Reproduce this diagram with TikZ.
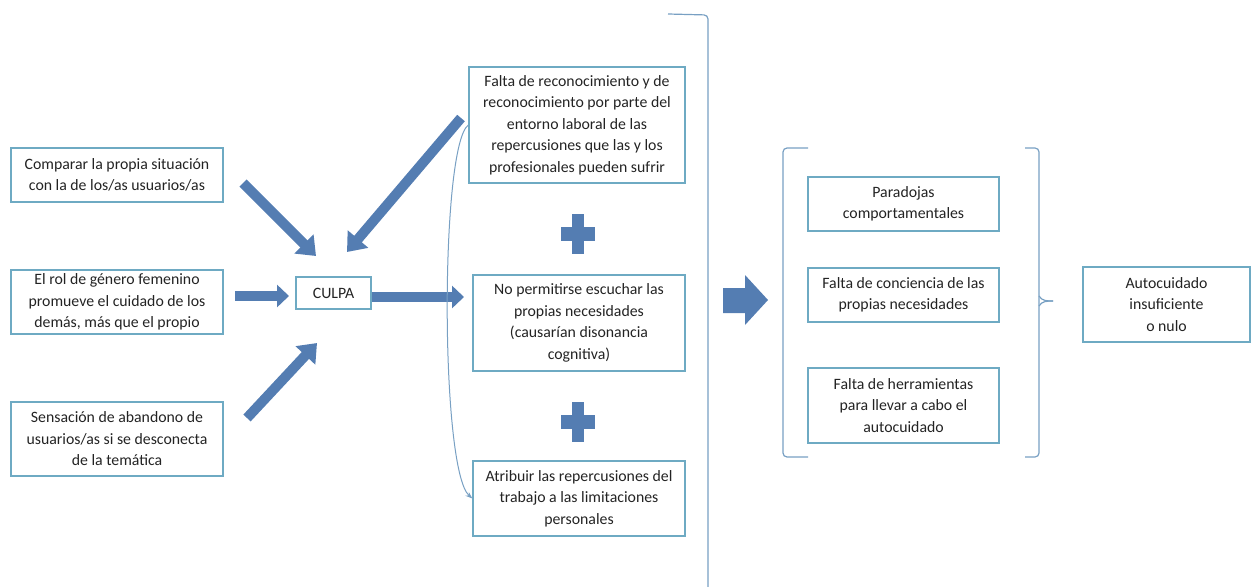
\documentclass[tikz,border=0pt]{standalone}
\usepackage{fontspec}
\setmainfont{Carlito}
\usetikzlibrary{arrows.meta}
\definecolor{boxc}{RGB}{110,170,195}
\definecolor{brkc}{RGB}{120,160,195}
\definecolor{arrowc}{RGB}{84,125,178}
\definecolor{txtc}{RGB}{35,35,35}
\tikzset{
  box/.style={draw=boxc, line width=1.2pt, align=center, inner sep=0pt, text=txtc,
    font=\fontsize{15.8}{21.5}\selectfont},
  blkd/.style={draw=arrowc, line width=10pt, -{Triangle[width=26pt,length=17pt]}},
  blkh/.style={draw=arrowc, line width=10pt, -{Triangle[width=22pt,length=12pt]}},
  brk/.style={draw=brkc, line width=1.2pt, rounded corners=4pt},
  thinarr/.style={draw=brkc, line width=1pt, -{Stealth[length=7pt,width=5pt]}},
}
\begin{document}
\begin{tikzpicture}[x=1pt,y=-1pt]
\useasboundingbox (0,0) rectangle (1252,586);
% left column
\node[box, minimum width=212pt, minimum height=54pt] (c1) at (117,175)
  {Comparar la propia situación\\con la de los/as usuarios/as};
\node[box, minimum width=212pt, minimum height=64pt] (c2) at (117,302)
  {El rol de género femenino\\promueve el cuidado de los\\demás, más que el propio};
\node[box, minimum width=212pt, minimum height=74pt] (c3) at (117,439)
  {Sensación de abandono de\\usuarios/as si se desconecta\\de la temática};
\node[box, minimum width=75pt, minimum height=32pt] (culpa) at (333.5,293) {CULPA};
% middle column
\node[box, minimum width=216pt, minimum height=116pt] (f1) at (577,125)
  {Falta de reconocimiento y de\\reconocimiento por parte del\\entorno laboral de las\\repercusiones que las y los\\profesionales pueden sufrir};
\node[box, minimum width=212pt, minimum height=96pt] (f2) at (579,323)
  {No permitirse escuchar las\\propias necesidades\\(causarían disonancia\\cognitiva)};
\node[box, minimum width=212pt, minimum height=75pt] (f3) at (579,498.5)
  {Atribuir las repercusiones del\\trabajo a las limitaciones\\personales};
% right group
\node[box, minimum width=191pt, minimum height=54pt] (p1) at (903.5,204)
  {Paradojas\\comportamentales};
\node[box, minimum width=191pt, minimum height=54pt] (p2) at (903.5,295)
  {Falta de conciencia de las\\propias necesidades};
\node[box, minimum width=191pt, minimum height=75pt] (p3) at (903.5,405.5)
  {Falta de herramientas\\para llevar a cabo el\\autocuidado};
\node[box, minimum width=167pt, minimum height=75pt] (auto) at (1166.5,304.5)
  {Autocuidado\\insuficiente\\o nulo};
% arrow end coordinates
\coordinate (a1s) at (243,183); \coordinate (a1e) at (316,256);
\coordinate (a2s) at (235,296); \coordinate (a2e) at (289,296);
\coordinate (a3s) at (247,418); \coordinate (a3e) at (317,343);
\coordinate (a4s) at (461,118); \coordinate (a4e) at (347,252);
\coordinate (a5e) at (464,297);
\draw[blkd] (a1s) -- (a1e);
\draw[blkh] (a2s) -- (a2e);
\draw[blkd] (a3s) -- (a3e);
\draw[blkd] (a4s) -- (a4e);
\draw[blkh] (culpa.east |- a5e) -- (a5e);
% plus signs
\coordinate (pl1) at (578,234);
\coordinate (pl2) at (578,422);
\foreach \p in {pl1,pl2}{
  \fill[arrowc] (\p) ++(-17,-7) rectangle ++(34,14);
  \fill[arrowc] (\p) ++(-6,-20) rectangle ++(12,40);
}
% thin curved arrow
\draw[thinarr] (f1.west) .. controls (440,145) and (440,470) .. (f3.west);
% big bracket
\draw[brk] (668,14) -- (708,15) -- (708,590);
% big block arrow
\fill[arrowc] (723,288) -- (745,288) -- (745,275) -- (768,300) -- (745,325) -- (745,313) -- (723,313) -- cycle;
% group brackets
\draw[brk] (808,148) -- (783,148) -- (783,457) -- (808,457);
\draw[brk] (1025,148) -- (1039,148) -- (1039,457) -- (1025,457);
\draw[draw=brkc, line width=1.2pt] (1039,296) to[out=-60,in=180] (1053,301);
\draw[draw=brkc, line width=1.2pt] (1039,306) to[out=60,in=180] (1053,301);
\end{tikzpicture}
\end{document}
